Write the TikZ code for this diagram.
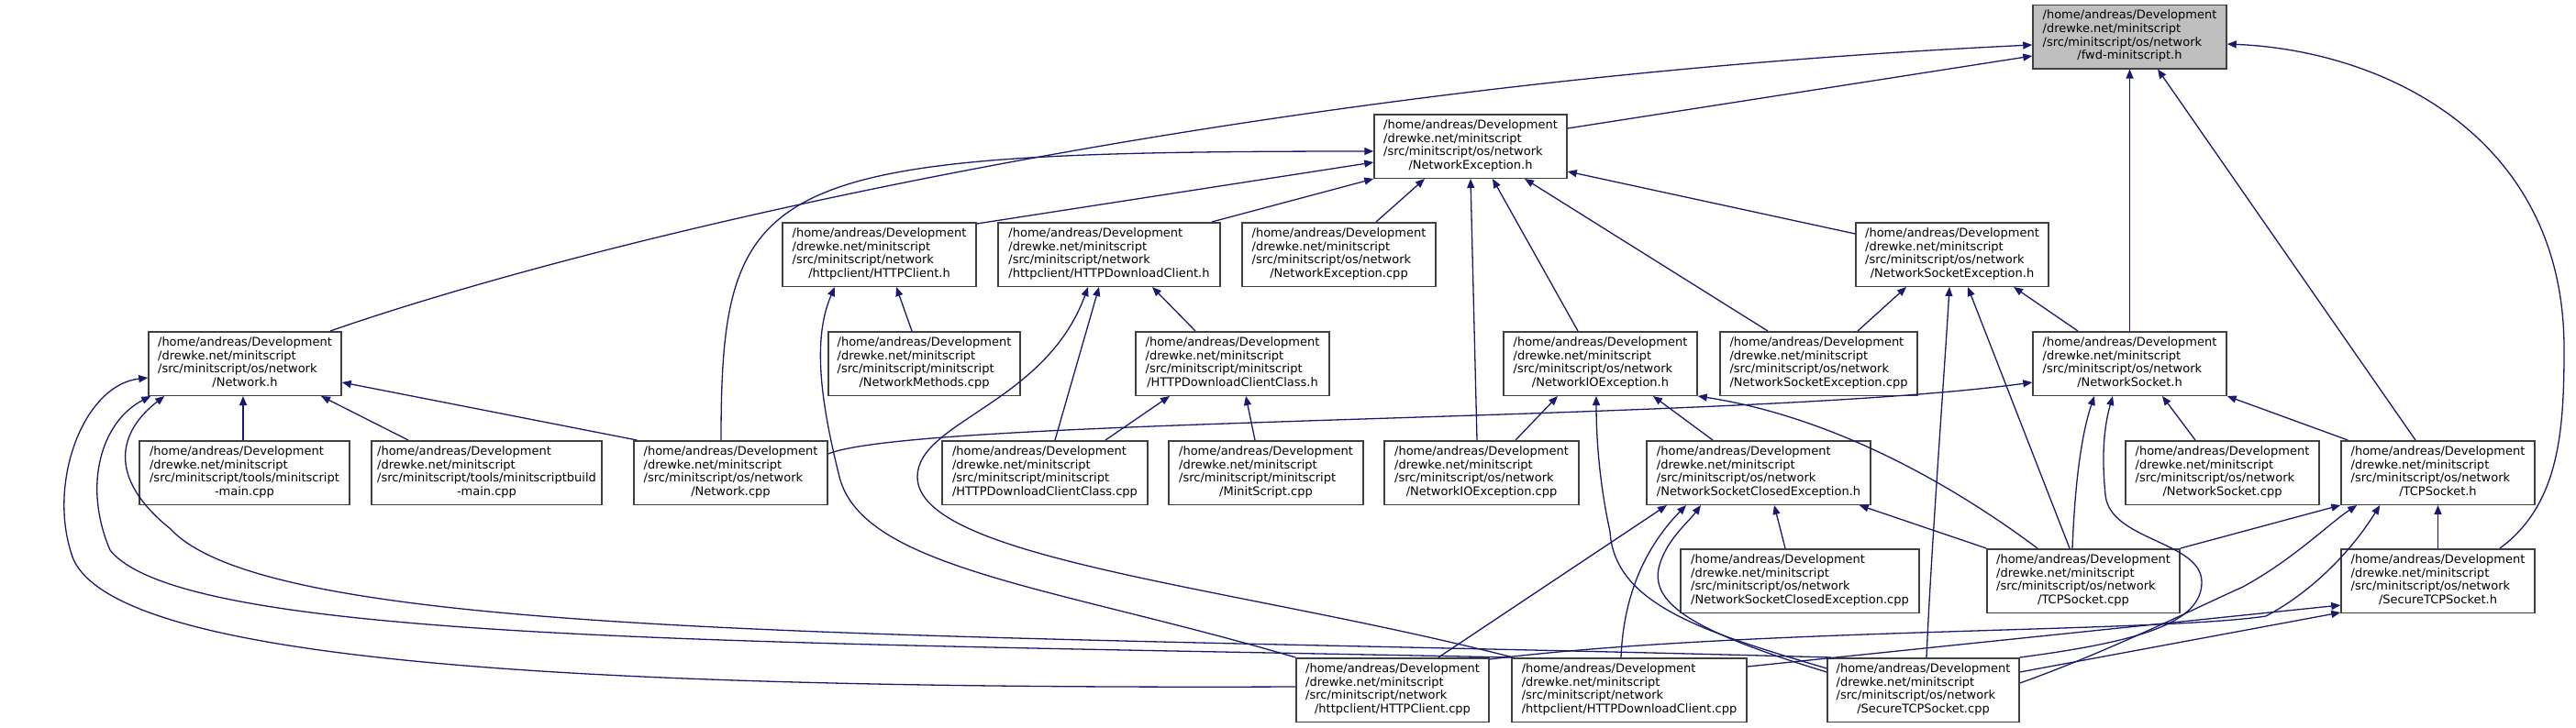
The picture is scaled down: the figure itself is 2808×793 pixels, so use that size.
\documentclass[tikz,border=0pt]{standalone}
\usepackage{fontspec}
\setmainfont{DejaVu Sans}
\usetikzlibrary{arrows.meta}
\definecolor{edgec}{HTML}{191970}
\definecolor{rootfill}{HTML}{BFBFBF}
\definecolor{boxline}{HTML}{404040}
\newcommand\lbl[2]{\begin{tabular}{@{}l@{}}/home/andreas/Development\\/drewke.net/minitscript\\#1\\\multicolumn{1}{@{}c@{}}{#2}\end{tabular}}
\begin{document}
\begin{tikzpicture}[x=1pt,y=-1pt,
  box/.style={draw=boxline, line width=1.5pt, fill=white, minimum height=69.5pt, inner sep=0pt,
    font=\fontsize{13}{14.7}\selectfont},
  dep/.style={draw=edgec, line width=1.3pt, -{Triangle[length=10pt,width=8pt]}}]
\useasboundingbox (0,0) rectangle (2808,793);
% nodes
\node[box,fill=rootfill,minimum width=211pt] (fwd) at (2321.5,40) {\lbl{/src/minitscript/os/network}{/fwd-minitscript.h}};
\node[box,minimum width=210pt] (NE) at (1603,159.5) {\lbl{/src/minitscript/os/network}{/NetworkException.h}};
\node[box,minimum width=211pt] (HC) at (958.5,277.5) {\lbl{/src/minitscript/network}{/httpclient/HTTPClient.h}};
\node[box,minimum width=242pt] (HDC) at (1209,277.5) {\lbl{/src/minitscript/network}{/httpclient/HTTPDownloadClient.h}};
\node[box,minimum width=211pt] (NEcpp) at (1459.5,277.5) {\lbl{/src/minitscript/os/network}{/NetworkException.cpp}};
\node[box,minimum width=210pt] (NSE) at (2128,277.5) {\lbl{/src/minitscript/os/network}{/NetworkSocketException.h}};
\node[box,minimum width=210pt] (NH) at (267,396.5) {\lbl{/src/minitscript/os/network}{/Network.h}};
\node[box,minimum width=209pt] (NM) at (1007.5,396.5) {\lbl{/src/minitscript/minitscript}{/NetworkMethods.cpp}};
\node[box,minimum width=211pt] (HDCC) at (1343.5,396.5) {\lbl{/src/minitscript/minitscript}{/HTTPDownloadClientClass.h}};
\node[box,minimum width=211pt] (NIOE) at (1744.5,396.5) {\lbl{/src/minitscript/os/network}{/NetworkIOException.h}};
\node[box,minimum width=215pt] (NSEcpp) at (1982.5,396.5) {\lbl{/src/minitscript/os/network}{/NetworkSocketException.cpp}};
\node[box,minimum width=211pt] (NS) at (2321.5,396.5) {\lbl{/src/minitscript/os/network}{/NetworkSocket.h}};
\node[box,minimum width=229pt] (MM) at (266.5,515.5) {\lbl{/src/minitscript/tools/minitscript}{-main.cpp}};
\node[box,minimum width=251pt] (MBM) at (530.5,515.5) {\lbl{/src/minitscript/tools/minitscriptbuild}{-main.cpp}};
\node[box,minimum width=211pt] (Ncpp) at (796.5,515.5) {\lbl{/src/minitscript/os/network}{/Network.cpp}};
\node[box,minimum width=224pt] (HDCCcpp) at (1139,515.5) {\lbl{/src/minitscript/minitscript}{/HTTPDownloadClientClass.cpp}};
\node[box,minimum width=212pt] (MS) at (1380,515.5) {\lbl{/src/minitscript/minitscript}{/MinitScript.cpp}};
\node[box,minimum width=212pt] (NIOEcpp) at (1615,515.5) {\lbl{/src/minitscript/os/network}{/NetworkIOException.cpp}};
\node[box,minimum width=244pt] (NSCE) at (1917,515.5) {\lbl{/src/minitscript/os/network}{/NetworkSocketClosedException.h}};
\node[box,minimum width=211pt] (NScpp) at (2422.5,515.5) {\lbl{/src/minitscript/os/network}{/NetworkSocket.cpp}};
\node[box,minimum width=211pt] (TCP) at (2657.5,515.5) {\lbl{/src/minitscript/os/network}{/TCPSocket.h}};
\node[box,minimum width=260pt] (NSCEcpp) at (1962,633.5) {\lbl{/src/minitscript/os/network}{/NetworkSocketClosedException.cpp}};
\node[box,minimum width=210pt] (TCPcpp) at (2271,633.5) {\lbl{/src/minitscript/os/network}{/TCPSocket.cpp}};
\node[box,minimum width=211pt] (STCP) at (2657.5,633.5) {\lbl{/src/minitscript/os/network}{/SecureTCPSocket.h}};
\node[box,minimum width=210pt] (HCcpp) at (1518,752.5) {\lbl{/src/minitscript/network}{/httpclient/HTTPClient.cpp}};
\node[box,minimum width=256pt] (HDCcpp) at (1776,752.5) {\lbl{/src/minitscript/network}{/httpclient/HTTPDownloadClient.cpp}};
\node[box,minimum width=209pt] (STCPcpp) at (2096.5,752.5) {\lbl{/src/minitscript/os/network}{/SecureTCPSocket.cpp}};
% into fwd
\draw[dep] ([yshift=19.5pt]NE.east) -- ([yshift=-21pt]fwd.west);
\draw[dep] ([xshift=93pt]NH.north) .. controls (650,260) and (1350,90) .. ([yshift=-9pt]fwd.west);
\draw[dep] (NS.north) -- (fwd.south);
\draw[dep] ([xshift=-24.5pt]TCP.north) -- ([xshift=30.5pt]fwd.south);
\draw[dep] ([xshift=67.5pt]STCP.north) .. controls (2790,550) and (2795,470) .. (2795,380) .. controls (2795,150) and (2600,55) .. ([yshift=-8pt]fwd.east);
% into NetworkException.h
\draw[dep] ([yshift=-2pt]HC.north east) -- ([yshift=-17.5pt]NE.west);
\draw[dep] ([xshift=112pt]HDC.north) -- (NE.south west);
\draw[dep] ([xshift=40.5pt]NEcpp.north) -- ([xshift=-50pt]NE.south);
\draw[dep] ([xshift=-5pt]NIOEcpp.north) -- (NE.south);
\draw[dep] ([xshift=-24.5pt]NIOE.north) -- ([xshift=24pt]NE.south);
\draw[dep] ([xshift=-55.5pt]NSEcpp.north) -- ([xshift=59pt]NE.south);
\draw[dep] ([yshift=22.5pt]NSE.west) -- ([yshift=-27.5pt]NE.east);
\draw[dep] ([xshift=-10.5pt]Ncpp.north) .. controls (786,190) and (830,165) .. ([yshift=-5.5pt]NE.west);
% into HTTPClient.h
\draw[dep] ([xshift=-13.5pt]NM.north) -- ([xshift=18.5pt]HC.south);
\draw[dep] (HCcpp.north west) .. controls (1150,640) and (940,620) .. (915,520) .. controls (895,440) and (885,370) .. ([xshift=-48.5pt]HC.south);
% into HTTPDownloadClient.h
\draw[dep] ([xshift=-40.5pt]HDCC.north) -- ([xshift=47pt]HDC.south);
\draw[dep] ([xshift=11pt]HDCCcpp.north) -- ([xshift=-11pt]HDC.south);
\draw[dep] ([xshift=2pt]HDCcpp.north west) .. controls (1350,640) and (1000,610) .. (1000,520) .. controls (1000,460) and (1140,440) .. ([xshift=-23pt]HDC.south);
% into HTTPDownloadClientClass.h
\draw[dep] ([xshift=66pt]HDCCcpp.north) -- ([xshift=-68.5pt]HDCC.south);
\draw[dep] ([xshift=-12pt]MS.north) -- ([xshift=14.5pt]HDCC.south);
% into Network.h
\draw[dep] ([xshift=-1.5pt]MM.north) -- ([xshift=-2pt]NH.south);
\draw[dep] ([xshift=-85.5pt]MBM.north) -- ([xshift=83pt]NH.south);
\draw[dep] ([xshift=4pt]Ncpp.north west) -- ([yshift=-20.5pt]NH.east);
\draw[dep] ([yshift=3.5pt]HCcpp.west) .. controls (600,752) and (130,720) .. (80,610) .. controls (50,530) and (90,420) .. ([yshift=-15.5pt]NH.west);
\draw[dep] (HDCcpp.north west) .. controls (800,700) and (200,700) .. (120,600) .. controls (90,530) and (110,460) .. ([xshift=3pt]NH.south west);
\draw[dep] ([xshift=5pt]STCPcpp.north west) .. controls (1000,690) and (300,700) .. (186,577) .. controls (115,520) and (130,470) .. ([xshift=18pt]NH.south west);
% into NetworkSocket.h
\draw[dep] ([yshift=20.5pt]Ncpp.east) .. controls (1000,455) and (1900,460) .. ([yshift=-20.5pt]NS.west);
\draw[dep] ([xshift=-29.5pt]NScpp.north) -- ([xshift=35.5pt]NS.south);
\draw[dep] ([xshift=8pt]TCP.north west) -- (NS.south east);
\draw[dep] ([xshift=-12pt]TCPcpp.north) .. controls (2262,520) and (2270,470) .. ([xshift=-38.5pt]NS.south);
\draw[dep] (STCPcpp.north east) .. controls (2330,700) and (2400,680) .. (2400,635) .. controls (2400,590) and (2300,590) .. (2295,540) .. controls (2290,490) and (2295,460) .. ([xshift=-18.5pt]NS.south);
% into NetworkSocketException.h
\draw[dep] ([xshift=-56.5pt]NS.north) -- ([xshift=67pt]NSE.south);
\draw[dep] ([xshift=42.5pt]NSEcpp.north) -- ([xshift=-50pt]NSE.south);
\draw[dep] ([xshift=3.5pt]STCPcpp.north) .. controls (2105,600) and (2120,400) .. ([xshift=-3pt]NSE.south);
\draw[dep] ([xshift=-15pt]TCPcpp.north) -- ([xshift=17pt]NSE.south);
% into NetworkIOException.h
\draw[dep] ([xshift=37pt]NIOEcpp.north) -- ([xshift=-46.5pt]NIOE.south);
\draw[dep] ([yshift=-12pt]STCPcpp.north west) .. controls (1860,690) and (1760,660) .. (1755,580) .. controls (1742,520) and (1740,470) .. ([xshift=-4.5pt]NIOE.south);
\draw[dep] ([xshift=-50pt]NSCE.north) -- ([xshift=57.5pt]NIOE.south);
\draw[dep] ([xshift=-50pt]TCPcpp.north) .. controls (2130,530) and (2000,455) .. (NIOE.south east);
% into NetworkSocketClosedException.h
\draw[dep] ([xshift=50pt]HCcpp.north) -- ([xshift=-100pt]NSCE.south);
\draw[dep] ([xshift=-9pt]HDCcpp.north) .. controls (1770,640) and (1800,590) .. ([xshift=-79pt]NSCE.south);
\draw[dep] ([yshift=-16pt]STCPcpp.north west) .. controls (1850,690) and (1800,660) .. (1808,620) .. controls (1815,590) and (1840,570) .. ([xshift=-63pt]NSCE.south);
\draw[dep] ([xshift=-16pt]NSCEcpp.north) -- ([xshift=17pt]NSCE.south);
\draw[dep] (TCPcpp.north west) -- ([xshift=-13pt]NSCE.south east);
% into TCPSocket.h
\draw[dep] (TCPcpp.north east) -- (TCP.south west);
\draw[dep] (STCP.north) -- (TCP.south);
\draw[dep] ([yshift=7.5pt]STCPcpp.east) .. controls (2300,710) and (2400,660) .. (2445,640) .. controls (2500,610) and (2540,570) .. ([xshift=18pt]TCP.south west);
\draw[dep] ([yshift=-2pt]HCcpp.north east) .. controls (1900,685) and (2350,690) .. (2470,672) .. controls (2530,640) and (2570,590) .. ([xshift=43pt]TCP.south west);
% into SecureTCPSocket.h
\draw[dep] ([yshift=19.5pt]STCPcpp.east) -- ([yshift=1pt]STCP.south west);
\draw[dep] ([yshift=25.5pt]HDCcpp.east) -- ([yshift=-26.5pt]STCP.west);
\end{tikzpicture}
\end{document}
